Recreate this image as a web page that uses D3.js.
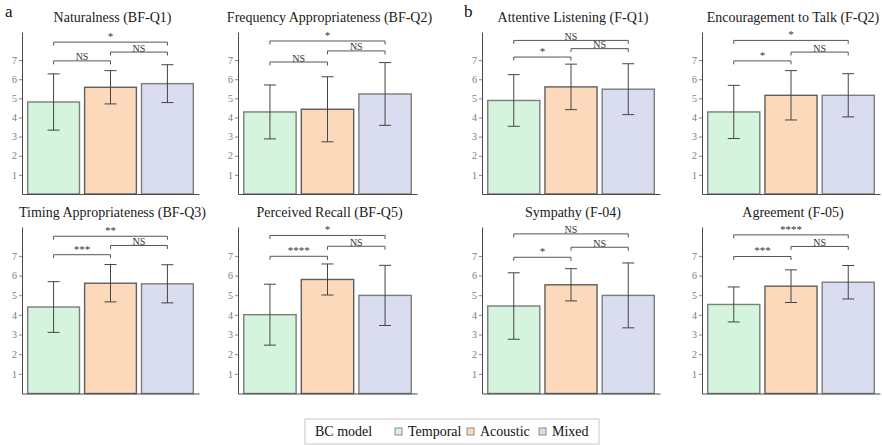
<!DOCTYPE html>
<html>
<head>
<meta charset="utf-8">
<script src="https://cdn.jsdelivr.net/npm/d3@7"></script>
<style>
  html, body { margin: 0; padding: 0; background: #fff; }
  svg { display: block; font-family: "Liberation Serif", "DejaVu Serif", serif; }
  svg text { font-family: "Liberation Serif", "DejaVu Serif", serif; }
</style>
</head>
<body>
<svg id="chart" width="882" height="445"></svg>
<script>
// BC model questionnaire results: mean ± SD per model, with pairwise significance
const categories = ["Temporal", "Acoustic", "Mixed"];

const panelTitles = [
  "Naturalness (BF-Q1)", "Frequency Appropriateness (BF-Q2)",
  "Attentive Listening (F-Q1)", "Encouragement to Talk (F-Q2)",
  "Timing Appropriateness (BF-Q3)", "Perceived Recall (BF-Q5)",
  "Sympathy (F-04)", "Agreement (F-05)"
];

const meanValues = [
  [4.81, 5.58, 5.77],
  [4.29, 4.43, 5.23],
  [4.89, 5.60, 5.48],
  [4.29, 5.16, 5.16],
  [4.40, 5.61, 5.58],
  [4.01, 5.80, 4.99],
  [4.45, 5.53, 4.99],
  [4.53, 5.46, 5.66]
];

const sdValues = [
  [1.47, 0.87, 0.99],
  [1.41, 1.70, 1.64],
  [1.35, 1.19, 1.33],
  [1.39, 1.29, 1.13],
  [1.29, 0.95, 0.97],
  [1.55, 0.79, 1.53],
  [1.69, 0.82, 1.65],
  [0.89, 0.83, 0.85]
];

// comparisons: Temporal–Acoustic, Acoustic–Mixed, Temporal–Mixed
const comparisons = [[0, 1], [1, 2], [0, 2]];

const sigLabels = [
  ["NS", "NS", "*"],
  ["NS", "NS", "*"],
  ["*", "NS", "NS"],
  ["*", "NS", "*"],
  ["***", "NS", "**"],
  ["****", "NS", "*"],
  ["*", "NS", "NS"],
  ["***", "NS", "****"]
];

const bracketLevels = [
  [6.96, 7.42, 7.94],
  [6.90, 7.48, 8.00],
  [7.16, 7.60, 8.03],
  [6.96, 7.42, 8.03],
  [7.06, 7.53, 8.00],
  [6.98, 7.49, 8.04],
  [6.93, 7.44, 8.12],
  [6.97, 7.48, 8.07]
];

const yTicks = [1, 2, 3, 4, 5, 6, 7];
const groupLabels = ["a", "b"];
const legendTitle = "BC model";

// styling
const fillColors = ["#d4f4de", "#fdd9bb", "#d9ddef"];
const strokeColors = ["#7c7c7c", "#5e5e5e", "#7c7c7c"];
const colX = [[22, 199], [238, 417], [482, 660], [702, 880]];
const rowY = [[32, 194], [227, 393.5]];
const yMax = 8.47;
const serif = '"Liberation Serif", "DejaVu Serif", serif';

const svg = d3.select("#chart");

panelTitles.forEach((title, p) => {
  const col = p % 4, row = Math.floor(p / 4);
  const [x0, x1] = colX[col];
  const [yTop, yBot] = rowY[row];

  const x = d3.scaleBand().domain(categories).range([x0, x1])
    .paddingInner(0.09).paddingOuter(0.1);
  const y = d3.scaleLinear().domain([0, yMax]).range([yBot, yTop]);

  const g = svg.append("g");

  // title
  g.append("text")
    .attr("x", (x0 + x1) / 2 + 2)
    .attr("y", yTop - 10)
    .attr("text-anchor", "middle")
    .attr("font-size", 14)
    .attr("fill", "#1a1a1a")
    .text(title);

  // bars
  categories.forEach((c, i) => {
    const v = meanValues[p][i];
    g.append("rect")
      .attr("x", x(c))
      .attr("y", y(v))
      .attr("width", x.bandwidth())
      .attr("height", y(0) - y(v))
      .attr("fill", fillColors[i])
      .attr("stroke", strokeColors[i])
      .attr("stroke-width", 1.4);
  });

  // error bars (mean ± SD)
  const cap = 6;
  categories.forEach((c, i) => {
    const cx = x(c) + x.bandwidth() / 2;
    const lo = meanValues[p][i] - sdValues[p][i];
    const hi = meanValues[p][i] + sdValues[p][i];
    const eg = g.append("g").attr("stroke", "#444").attr("stroke-width", 1);
    eg.append("line").attr("x1", cx).attr("x2", cx).attr("y1", y(lo)).attr("y2", y(hi));
    eg.append("line").attr("x1", cx - cap).attr("x2", cx + cap).attr("y1", y(lo)).attr("y2", y(lo));
    eg.append("line").attr("x1", cx - cap).attr("x2", cx + cap).attr("y1", y(hi)).attr("y2", y(hi));
  });

  // y axis
  const yAxis = d3.axisLeft(y).tickValues(yTicks).tickSize(3).tickSizeOuter(0).tickPadding(2);
  const ya = g.append("g").attr("transform", `translate(${x0},0)`).call(yAxis)
    .attr("font-family", serif);
  ya.select(".domain").attr("stroke", "#4a4a4a").attr("stroke-width", 1);
  ya.selectAll(".tick line").attr("stroke", "#888");
  ya.selectAll(".tick text")
    .style("font-family", serif)
    .attr("font-size", 10)
    .attr("fill", "#7a7a7a");

  // x axis (baseline only)
  const xAxis = d3.axisBottom(x).tickValues([]).tickSizeOuter(0);
  const xa = g.append("g").attr("transform", `translate(0,${yBot})`).call(xAxis);
  xa.select(".domain").attr("stroke", "#4a4a4a").attr("stroke-width", 1);

  // significance brackets
  comparisons.forEach(([a, b], k) => {
    const xa1 = x(categories[a]) + x.bandwidth() / 2;
    const xb1 = x(categories[b]) + x.bandwidth() / 2;
    const lv = bracketLevels[p][k];
    const yl = y(lv), yt = y(lv - 0.18);
    g.append("path")
      .attr("d", `M${xa1},${yt}V${yl}H${xb1}V${yt}`)
      .attr("fill", "none")
      .attr("stroke", "#555")
      .attr("stroke-width", 1);
    const lab = sigLabels[p][k];
    g.append("text")
      .attr("x", (xa1 + xb1) / 2)
      .attr("y", lab === "NS" ? yl - 0.5 : yl - 2)
      .attr("text-anchor", "middle")
      .attr("font-size", lab === "NS" ? 10 : 11)
      .attr("fill", "#333")
      .text(lab);
  });
});

// group labels
svg.append("text").attr("x", 5).attr("y", 17).attr("font-size", 17).attr("fill", "#111").text(groupLabels[0]);
svg.append("text").attr("x", 464).attr("y", 17).attr("font-size", 17).attr("fill", "#111").text(groupLabels[1]);

// legend
const lg = svg.append("g");
const legendBox = { x: 305, y: 419, w: 294, h: 25 };
lg.append("rect")
  .attr("x", legendBox.x).attr("y", legendBox.y)
  .attr("width", legendBox.w).attr("height", legendBox.h)
  .attr("fill", "#fff").attr("stroke", "#c8c8c8").attr("stroke-width", 1);

lg.append("text")
  .attr("x", 315).attr("y", 436)
  .attr("font-size", 14).attr("fill", "#111")
  .text(legendTitle);

const legendX = d3.scalePoint().domain(categories).range([395, 539]);
categories.forEach((c, i) => {
  const lx = legendX(c);
  lg.append("rect")
    .attr("x", lx).attr("y", 428)
    .attr("width", 7).attr("height", 7)
    .attr("fill", fillColors[i])
    .attr("stroke", "#8a8a8a").attr("stroke-width", 1);
  lg.append("text")
    .attr("x", lx + 13).attr("y", 436)
    .attr("font-size", 14).attr("fill", "#111")
    .text(c);
});
</script>
</body>
</html>
